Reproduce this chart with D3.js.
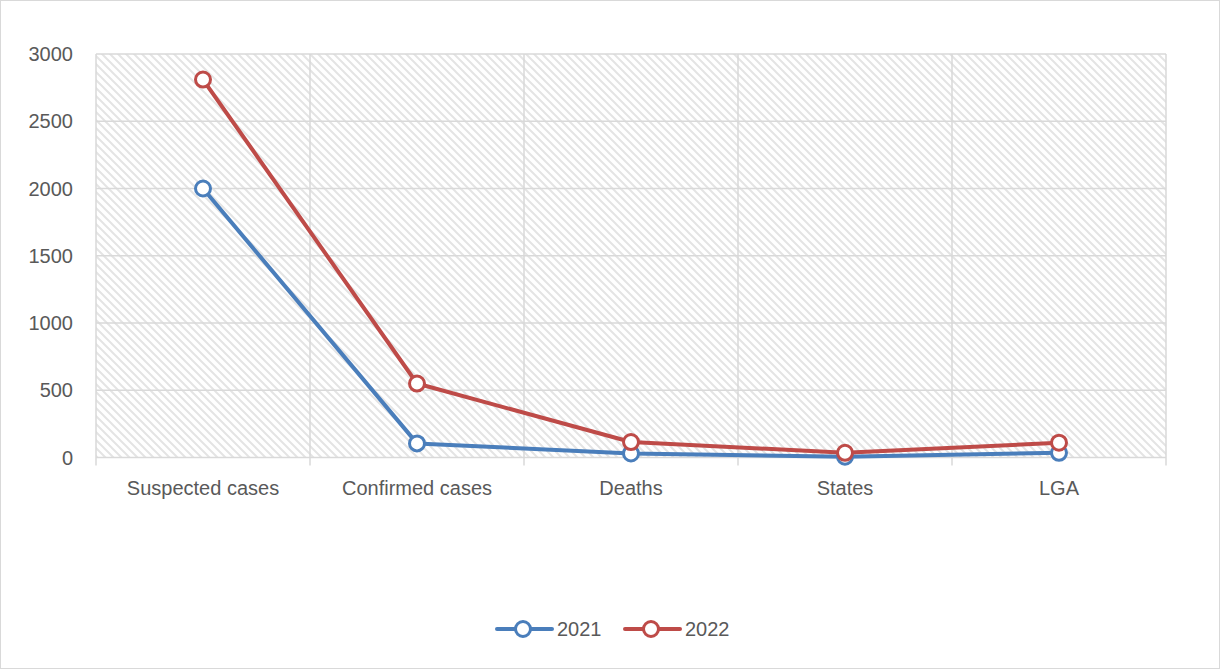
<!DOCTYPE html>
<html>
<head>
<meta charset="utf-8">
<script src="https://cdn.jsdelivr.net/npm/d3@7"></script>
<style>
  body { margin: 0; background: #fff; }
  text { font-family: "Liberation Sans", Arial, sans-serif; fill: #595959; }
</style>
</head>
<body>
<script>
// chart data
var categories = ["Suspected cases", "Confirmed cases", "Deaths", "States", "LGA"];
var years = ["2021", "2022"];
var values2021 = [2000, 105, 30, 6, 35];
var values2022 = [2810, 550, 115, 35, 110];
var yTicks = [0, 500, 1000, 1500, 2000, 2500, 3000];
var colors = ["#4A7EBB", "#BE4B48"];

var width = 1220, height = 669;
var plotLeft = 96, plotRight = 1166, plotTop = 54, plotBottom = 457.5;

var svg = d3.select("body").append("svg")
  .attr("width", width)
  .attr("height", height);

// outer border
svg.append("rect")
  .attr("x", 0.5).attr("y", 0.5)
  .attr("width", width - 1).attr("height", height - 1)
  .attr("fill", "#fff")
  .attr("stroke", "#d9d9d9");

// hatch pattern for plot area
var pat = svg.append("defs").append("pattern")
  .attr("id", "hatch")
  .attr("patternUnits", "userSpaceOnUse")
  .attr("width", 8).attr("height", 8);
pat.append("path")
  .attr("d", "M-2,-2L10,10M-2,6L2,10M6,-2L10,2")
  .attr("stroke", "#e4e4e4")
  .attr("stroke-width", 2);

var x = d3.scalePoint().domain(categories).range([plotLeft, plotRight]).padding(0.5);
var y = d3.scaleLinear().domain([0, 3000]).range([plotBottom, plotTop]);
var step = x.step();

svg.append("rect")
  .attr("x", plotLeft).attr("y", plotTop)
  .attr("width", plotRight - plotLeft).attr("height", plotBottom - plotTop)
  .attr("fill", "url(#hatch)");

// horizontal gridlines
svg.selectAll(".hgrid").data(yTicks).enter().append("line")
  .attr("x1", plotLeft).attr("x2", plotRight)
  .attr("y1", function (d) { return y(d); })
  .attr("y2", function (d) { return y(d); })
  .attr("stroke", "#d9d9d9")
  .attr("stroke-width", 1.5);

// vertical gridlines at category borders, with ticks below axis
var borders = d3.range(categories.length + 1).map(function (i) { return plotLeft + i * step; });
svg.selectAll(".vgrid").data(borders).enter().append("line")
  .attr("x1", function (d) { return d; })
  .attr("x2", function (d) { return d; })
  .attr("y1", plotTop)
  .attr("y2", plotBottom + 8)
  .attr("stroke", "#d9d9d9")
  .attr("stroke-width", 1.5);

// y tick labels
svg.selectAll(".ylab").data(yTicks).enter().append("text")
  .attr("x", 73)
  .attr("y", function (d) { return y(d); })
  .attr("dy", "0.36em")
  .attr("text-anchor", "end")
  .style("font-size", "20px")
  .text(function (d) { return d; });

// x category labels
svg.selectAll(".xlab").data(categories).enter().append("text")
  .attr("x", function (d) { return x(d); })
  .attr("y", 495)
  .attr("text-anchor", "middle")
  .style("font-size", "20px")
  .text(function (d) { return d; });

// lines and markers
var series = [values2021, values2022];
var line = d3.line()
  .x(function (d, i) { return x(categories[i]); })
  .y(function (d) { return y(d); });

series.forEach(function (vals, s) {
  svg.append("path")
    .datum(vals)
    .attr("d", line)
    .attr("fill", "none")
    .attr("stroke", colors[s])
    .attr("stroke-width", 4)
    .attr("stroke-linejoin", "round");
  svg.selectAll(".m" + s).data(vals).enter().append("circle")
    .attr("cx", function (d, i) { return x(categories[i]); })
    .attr("cy", function (d) { return y(d); })
    .attr("r", 7.5)
    .attr("fill", "#fff")
    .attr("stroke", colors[s])
    .attr("stroke-width", 3);
});

// legend
var legendX = [497, 625];
years.forEach(function (yr, s) {
  var g = svg.append("g").attr("transform", "translate(" + legendX[s] + ",629)");
  g.append("line")
    .attr("x1", 0).attr("x2", 55)
    .attr("stroke", colors[s])
    .attr("stroke-width", 4)
    .attr("stroke-linecap", "round");
  g.append("circle")
    .attr("cx", 26).attr("r", 7.5)
    .attr("fill", "#fff")
    .attr("stroke", colors[s])
    .attr("stroke-width", 3);
  g.append("text")
    .attr("x", 60).attr("dy", "0.36em")
    .style("font-size", "20px")
    .text(yr);
});
</script>
</body>
</html>
